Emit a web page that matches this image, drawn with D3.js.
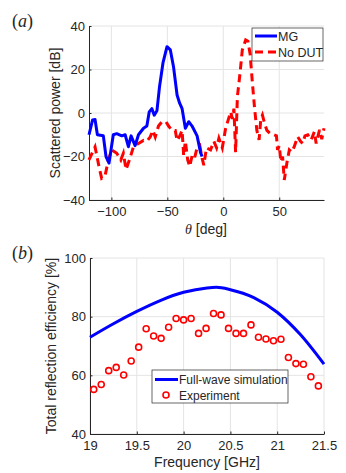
<!DOCTYPE html>
<html>
<head>
<meta charset="utf-8">
<script src="https://cdn.jsdelivr.net/npm/d3@7"></script>
<style>
  body { margin: 0; background: #fff; }
  svg { display: block; }
  text { font-family: "Liberation Sans", Arial, sans-serif; fill: #262626; }
</style>
</head>
<body>
<svg width="346" height="473"></svg>
<script>
// (a) scattered power vs angle
const mgTheta = [-120, -116.8, -114.6, -112.5, -107.2, -104.8, -102.1, -98.3, -95.2, -90.7, -87.7, -84.8, -82.4, -78.8, -75.8, -71.3, -68.3, -66.2, -63.8, -61.7, -59.3, -57, -53.9, -50.3, -47.3, -44.4, -41.3, -39, -36.8, -33.9, -30.9, -27.9, -23.4, -20.4, -19];
const mgPower = [-10, -3.2, -3, -10, -10.5, -20, -23, -10, -9.5, -10.5, -10, -15.5, -10.5, -15, -10, -7, -6, 0.5, 2, -1, 1, 12, 23, 30.5, 29, 21, 8.3, 4.5, 2, -7, -4, -6, -10.5, -18, -20];

const noDutTheta = [-120, -114.6, -111, -108.7, -105.7, -102.7, -99.7, -95.2, -91.6, -89.3, -86.9, -83.9, -80.3, -75.8, -71.3, -68.3, -65.3, -62.9, -60.8, -57.9, -54.8, -51.2, -48.9, -45.8, -42.9, -41.3, -39, -36.8, -35.4, -33.9, -31.8, -30, -27.9, -25.8, -23.4, -21, -18.9, -17.4, -15, -11.4, -8.4, -6, -3.9, -0.9, 2.1, 6.6, 8.1, 9.5, 11, 12.6, 14.9, 17, 20, 22, 24, 26, 28, 30, 32, 33.5, 35, 37, 39, 42, 45, 47.5, 48.5, 50, 51.5, 53, 54.5, 57, 59, 61, 63.4, 66.5, 69, 71, 73, 75.5, 78.5, 81.4, 83, 86, 88, 90];
const noDutPower = [-21.6, -15.6, -24.8, -30, -29, -21.6, -17, -18.5, -21.6, -18.5, -26, -21.6, -15.6, -14, -12.6, -13, -11, -8, -11, -6, -4, -4, -6, -8, -8, -12.7, -10.7, -8, -19.7, -13, -21.6, -24.6, -19.7, -21, -16, -15, -20.9, -24, -16, -17, -13, -16, -11.6, -16, -7, 0.5, -2.7, 2, -18, 7.5, 18, 29, 33.6, 33, 27, 14, 2, -8, -12.4, -3, -1, -5, -8, -9.5, -10, -10.5, -17, -15, -22.4, -20, -30.8, -22.4, -17, -18, -15.5, -10.9, -13, -14, -10.5, -10, -12.4, -8.6, -14, -7.8, -12, -7];

const thetaTicks = [-100, -50, 0, 50];
const powerTicks = [-40, -20, 0, 20, 40];

// (b) reflection efficiency vs frequency
const simFreq = [19, 19.25, 19.5, 19.75, 20, 20.25, 20.35, 20.5, 20.75, 21, 21.25, 21.5];
const simEff = [73, 77.6, 81.8, 85.5, 88.3, 89.8, 90, 89.2, 86.5, 81.5, 73.8, 63.8];

const expFreq = [19.04, 19.12, 19.2, 19.28, 19.36, 19.44, 19.52, 19.6, 19.68, 19.76, 19.84, 19.92, 20, 20.08, 20.16, 20.24, 20.32, 20.4, 20.48, 20.56, 20.64, 20.72, 20.8, 20.88, 20.96, 21.04, 21.12, 21.2, 21.28, 21.36, 21.44];
const expEff = [55.2, 56.9, 61.6, 62.7, 60.1, 64.9, 69.6, 75.9, 73.4, 72.6, 76.4, 79.4, 78.9, 79.4, 74.3, 76, 81.1, 80.6, 76, 74.3, 74.3, 77.2, 73, 72.4, 71.8, 72.3, 66.1, 64, 63.8, 59.5, 56.4];

const freqTicks = [19, 19.5, 20, 20.5, 21, 21.5];
const effTicks = [40, 60, 80, 100];

const svg = d3.select("svg");
const axisColor = "#262626";
const gridColor = "#e4e4e4";

function drawFrame(g, x, y, xTicks, yTicks, fmtX) {
  const [x0, x1] = x.range();
  const [y0, y1] = y.range();
  // grid
  g.append("g")
    .selectAll("line")
    .data(xTicks)
    .join("line")
      .attr("x1", d => x(d)).attr("x2", d => x(d))
      .attr("y1", y0).attr("y2", y1)
      .attr("stroke", gridColor);
  g.append("g")
    .selectAll("line")
    .data(yTicks)
    .join("line")
      .attr("x1", x0).attr("x2", x1)
      .attr("y1", d => y(d)).attr("y2", d => y(d))
      .attr("stroke", gridColor);

  const xAxis = g.append("g")
    .attr("transform", `translate(0,${y0})`)
    .call(d3.axisBottom(x).tickValues(xTicks).tickSizeInner(-2.5).tickSizeOuter(0).tickPadding(7).tickFormat(fmtX));
  const yAxis = g.append("g")
    .attr("transform", `translate(${x0},0)`)
    .call(d3.axisLeft(y).tickValues(yTicks).tickSizeInner(-2.5).tickSizeOuter(0).tickPadding(4));
  [xAxis, yAxis].forEach(a => {
    a.selectAll("path, line").attr("stroke", axisColor);
    a.selectAll("text").attr("fill", axisColor).style("font-size", "13px")
      .style("font-family", "'Liberation Sans', Arial, sans-serif");
  });
}

// ---------- panel (a)
const xA = d3.scaleLinear().domain([-120, 90]).range([89, 324]);
const yA = d3.scaleLinear().domain([-40, 40]).range([200, 26]);
const gA = svg.append("g");
drawFrame(gA, xA, yA, thetaTicks, powerTicks, d3.format("d"));

const lineA = d3.line().x(d => xA(d[0])).y(d => yA(d[1]));
gA.append("path")
  .datum(d3.zip(noDutTheta, noDutPower))
  .attr("d", lineA)
  .attr("fill", "none")
  .attr("stroke", "#ff0000")
  .attr("stroke-width", 3)
  .attr("stroke-dasharray", "8,5");
gA.append("path")
  .datum(d3.zip(mgTheta, mgPower))
  .attr("d", lineA)
  .attr("fill", "none")
  .attr("stroke", "#0000ff")
  .attr("stroke-width", 3)
  .attr("stroke-linejoin", "round");

// legend (a)
const legA = gA.append("g");
legA.append("rect").attr("x", 252).attr("y", 28).attr("width", 71).attr("height", 33)
  .attr("fill", "#fff").attr("stroke", "#262626").attr("stroke-width", 0.7);
legA.append("line").attr("x1", 255).attr("x2", 277).attr("y1", 36).attr("y2", 36)
  .attr("stroke", "#0000ff").attr("stroke-width", 3);
legA.append("line").attr("x1", 255).attr("x2", 277).attr("y1", 52).attr("y2", 52)
  .attr("stroke", "#ff0000").attr("stroke-width", 3).attr("stroke-dasharray", "8,5");
legA.append("text").attr("x", 278).attr("y", 40.5).style("font-size", "12.5px").attr("fill", "#000").text("MG");
legA.append("text").attr("x", 278).attr("y", 56.5).style("font-size", "12.5px").attr("fill", "#000").text("No DUT");

gA.append("text")
  .attr("transform", "translate(60,113) rotate(-90)")
  .attr("text-anchor", "middle")
  .style("font-size", "14px")
  .text("Scattered power [dB]");
const xlabA = gA.append("text").attr("x", 206).attr("y", 234).attr("text-anchor", "middle").style("font-size", "14px");
xlabA.append("tspan").style("font-family", "'Liberation Serif', 'DejaVu Serif', serif").style("font-style", "italic").text("θ");
xlabA.append("tspan").text(" [deg]");

svg.append("text").attr("x", 12).attr("y", 27)
  .style("font-family", "'Liberation Serif', serif").style("font-size", "18px").attr("fill", "#000")
  .html("(<tspan font-style='italic'>a</tspan>)");

// ---------- panel (b)
const xB = d3.scaleLinear().domain([19, 21.5]).range([90, 324]);
const yB = d3.scaleLinear().domain([40, 100]).range([434, 258]);
const gB = svg.append("g");
drawFrame(gB, xB, yB, freqTicks, effTicks, d => d3.format("")(d));

gB.append("path")
  .datum(d3.zip(simFreq, simEff))
  .attr("d", d3.line().x(d => xB(d[0])).y(d => yB(d[1])).curve(d3.curveMonotoneX))
  .attr("fill", "none")
  .attr("stroke", "#0000ff")
  .attr("stroke-width", 3);

gB.append("g")
  .selectAll("circle")
  .data(d3.zip(expFreq, expEff))
  .join("circle")
    .attr("cx", d => xB(d[0]))
    .attr("cy", d => yB(d[1]))
    .attr("r", 3)
    .attr("fill", "none")
    .attr("stroke", "#ff0000")
    .attr("stroke-width", 1.6);

// legend (b)
const legB = gB.append("g");
legB.append("rect").attr("x", 152).attr("y", 370).attr("width", 136).attr("height", 33)
  .attr("fill", "#fff").attr("stroke", "#262626").attr("stroke-width", 0.7);
legB.append("line").attr("x1", 155).attr("x2", 178).attr("y1", 379.5).attr("y2", 379.5)
  .attr("stroke", "#0000ff").attr("stroke-width", 3);
legB.append("circle").attr("cx", 166).attr("cy", 395).attr("r", 3)
  .attr("fill", "none").attr("stroke", "#ff0000").attr("stroke-width", 1.6);
legB.append("text").attr("x", 179).attr("y", 384).style("font-size", "12px").attr("fill", "#000").text("Full-wave simulation");
legB.append("text").attr("x", 179).attr("y", 399.5).style("font-size", "12px").attr("fill", "#000").text("Experiment");

gB.append("text")
  .attr("transform", "translate(56,346) rotate(-90)")
  .attr("text-anchor", "middle")
  .style("font-size", "14px")
  .text("Total reflection efficiency [%]");
gB.append("text").attr("x", 207).attr("y", 467).attr("text-anchor", "middle")
  .style("font-size", "14px").text("Frequency [GHz]");

svg.append("text").attr("x", 12).attr("y", 259)
  .style("font-family", "'Liberation Serif', serif").style("font-size", "18px").attr("fill", "#000")
  .html("(<tspan font-style='italic'>b</tspan>)");
</script>
</body>
</html>
